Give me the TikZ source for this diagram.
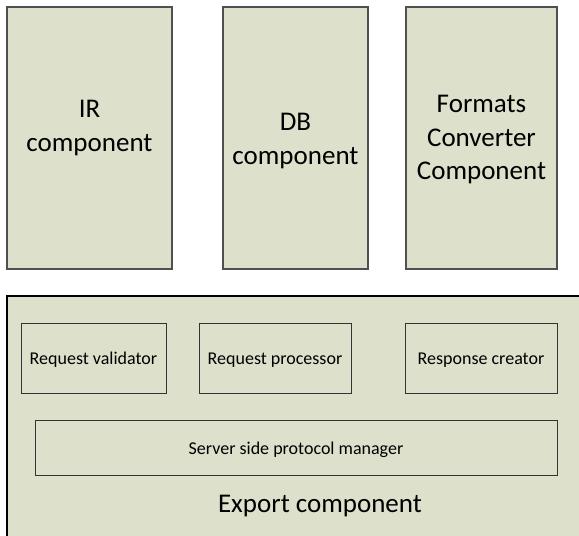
\documentclass[tikz,border=0pt]{standalone}
\usepackage{fontspec}
\setmainfont{Carlito}
\definecolor{boxfill}{HTML}{DDE0CB}
\definecolor{boxline}{HTML}{505050}
\begin{document}
\begin{tikzpicture}[x=1pt,y=-1pt,
  comp/.style={draw=boxline,line width=1.2pt,fill=boxfill},
  part/.style={draw=black!80,line width=0.9pt,fill=boxfill},
  bigtext/.style={font=\fontsize{27}{33.5}\selectfont,align=center},
  smalltext/.style={font=\fontsize{18}{21}\selectfont}]
\useasboundingbox (0,0) rectangle (579,536);
\begin{scope}
\clip (0,0) rectangle (579,536);
% upper components
\draw[comp] (7,7) rectangle (172,269);
\draw[comp] (223,7) rectangle (368,269);
\draw[comp] (406,7) rectangle (557,269);
\node[bigtext] (ir) at (89.5,128) {IR\\component};
\node[bigtext] (db) at (295.5,141) {DB\\component};
\node[bigtext] (fc) at (481.5,140) {Formats\\Converter\\Component};
% export component and its parts
\draw[draw=black,line width=1.3pt,fill=boxfill] (7,296) rectangle (590,550);
\draw[part] (21,323) rectangle (166,393);
\draw[part] (199,323) rectangle (351,393);
\draw[part] (405,323) rectangle (557,393);
\draw[part] (35,420) rectangle (557,475);
\node[smalltext] (rv) at (93.5,360) {Request validator};
\node[smalltext] (rp) at (275,360) {Request processor};
\node[smalltext] (rc) at (481,360) {Response creator};
\node[smalltext] (sp) at (296,449.5) {Server side protocol manager};
\node[bigtext] (ex) at (320,506) {Export component};
\end{scope}
\end{tikzpicture}
\end{document}
